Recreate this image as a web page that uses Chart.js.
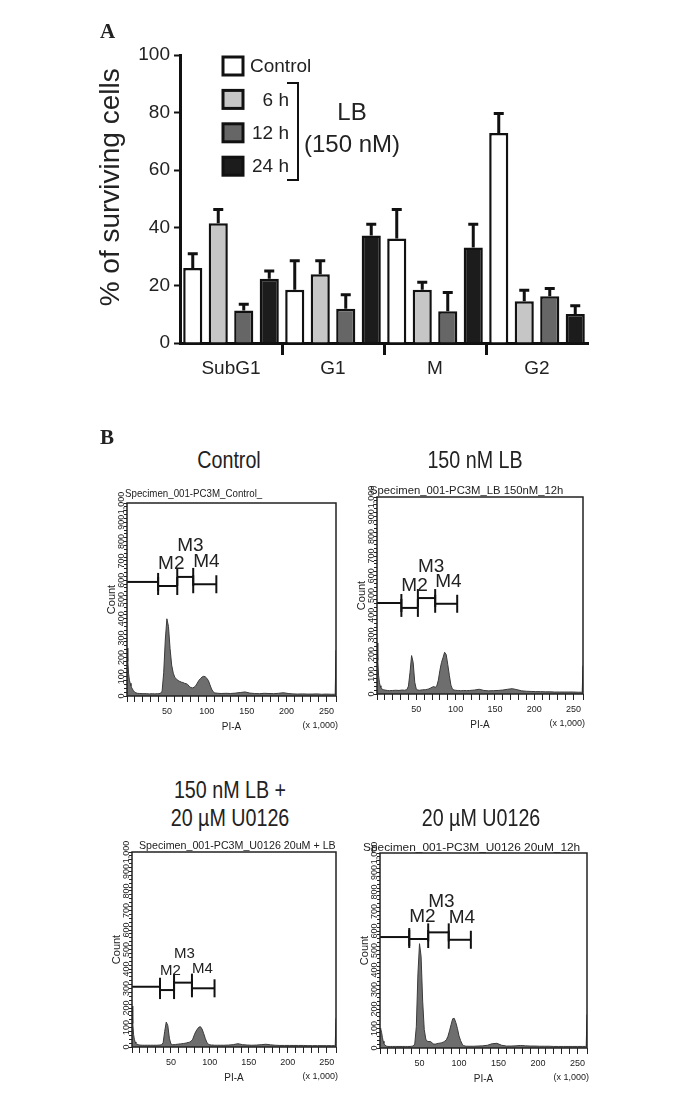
<!DOCTYPE html>
<html>
<head>
<meta charset="utf-8">
<script src="https://cdn.jsdelivr.net/npm/chart.js@4.4.1/dist/chart.umd.min.js"></script>
<style>
  body { margin: 0; background: #fff; }
  #page { position: relative; width: 688px; height: 1094px; overflow: hidden; color: #222; }
  .abs { position: absolute; }
  .panel { font-family: "Liberation Serif", "Times New Roman", serif; font-weight: bold; font-size: 21px; line-height: 21px; }
  .ttl { font-family: "Liberation Sans", Arial, sans-serif; font-size: 24px; line-height: 28px; white-space: nowrap; transform: translateX(-50%) scaleX(0.82); }
  .hdr { font-family: "Liberation Sans", Arial, sans-serif; font-size: 11px; line-height: 12px; white-space: nowrap; transform-origin: left center; }
</style>
</head>
<body>
<div id="page">
  <canvas id="barChart" class="abs" style="left:0;top:0"></canvas>
  <canvas id="hist1" class="abs"></canvas>
  <canvas id="hist2" class="abs"></canvas>
  <canvas id="hist3" class="abs"></canvas>
  <canvas id="hist4" class="abs"></canvas>

  <div class="abs panel" style="left:100px;top:21px">A</div>
  <div class="abs panel" style="left:100px;top:427px">B</div>

  <div class="abs ttl" style="left:229px;top:446px">Control</div>
  <div class="abs ttl" style="left:475px;top:446px">150 nM LB</div>
  <div class="abs ttl" style="left:230px;top:776px">150 nM LB +</div>
  <div class="abs ttl" style="left:230px;top:804px">20 µM U0126</div>
  <div class="abs ttl" style="left:481px;top:804px">20 µM U0126</div>

  <div class="abs hdr" data-w="137" style="left:125px;top:487px">Specimen_001-PC3M_Control_</div>
  <div class="abs hdr" data-w="193" style="left:370px;top:484px">Specimen_001-PC3M_LB 150nM_12h</div>
  <div class="abs hdr" data-w="197" style="left:139px;top:839px">Specimen_001-PC3M_U0126 20uM + LB</div>
  <div class="abs hdr" data-w="217" style="left:363px;top:841px">Specimen_001-PC3M_U0126 20uM_12h</div>
</div>

<script>
// ---- Panel A data ----
const phases = ['SubG1', 'G1', 'M', 'G2'];
const controlPct = [26.0, 18.5, 36.3, 72.9];
const lb6hPct = [41.6, 23.9, 18.5, 14.5];
const lb12hPct = [11.3, 11.9, 11.0, 16.2];
const lb24hPct = [22.3, 37.3, 33.2, 10.1];
// upper error (SD) for each bar
const controlSd = [5.2, 10.2, 10.2, 7.0];
const lb6hSd = [4.9, 4.8, 2.8, 4.0];
const lb12hSd = [2.3, 5.0, 6.7, 2.9];
const lb24hSd = [2.9, 4.1, 8.2, 3.0];
const pctTicks = [0, 20, 40, 60, 80, 100];

// ---- Panel B data (PI-A channel x1,000 vs count) ----
const channels = [0,1,2,3,4,5,6,8,10,13,16,20,24,28,32,35,38,
  40,42,44,46,48,50,52,54,56,58,60,62,64,66,68,70,72,74,76,78,80,82,84,86,88,90,92,94,96,98,100,102,104,106,108,110,
  114,118,124,130,136,142,148,154,160,166,172,178,184,190,196,202,208,214,220,226,232,238,244,250,256,260,261,262];

const controlCounts = [249,180,115,82,66,52,42,28,18,14,13,12,12,11,12,11,12,
  12,14,25,120,290,400,360,245,160,118,96,88,80,76,72,70,66,64,60,50,44,42,45,52,66,80,90,98,102,100,92,80,58,36,22,16,
  14,13,14,13,15,18,21,15,13,12,14,13,12,14,17,13,11,10,11,10,10,11,9,10,9,9,9,237];
const lbCounts = [259,170,95,60,42,32,26,22,20,18,17,18,19,18,20,19,22,
  40,110,195,160,60,24,20,19,20,21,22,22,24,26,30,34,38,34,40,70,120,160,185,212,200,150,95,45,24,20,19,18,18,17,17,18,
  17,18,20,24,18,16,17,18,20,24,27,22,16,14,13,12,12,11,11,10,10,10,10,10,9,9,9,144];
const lbU0126Counts = [210,120,65,40,26,19,15,12,10,9,9,9,9,9,9,10,11,
  22,80,128,110,45,15,12,12,13,14,15,16,17,18,19,21,23,25,30,40,62,80,92,102,104,92,70,45,25,14,11,10,10,9,9,9,
  9,9,10,12,17,12,10,9,10,12,14,11,9,8,8,8,8,8,8,7,7,7,7,7,7,7,7,147];
const u0126Counts = [100,96,80,55,35,24,16,10,8,8,8,8,8,8,8,8,8,
  9,10,20,110,380,535,470,240,95,45,34,33,33,26,20,20,22,24,25,27,30,35,42,60,88,120,150,152,130,100,62,38,20,12,10,9,
  9,9,10,11,14,22,24,14,10,10,11,13,11,10,10,9,9,9,8,8,8,8,8,8,8,8,8,171];

// marker gates M1..M4: edges and level (count) of each bar
const controlGateEdges = [0, 39, 63, 83, 112];
const controlGateLevels = [591, 570, 617, 579];
const lbGateEdges = [0, 31, 52, 74, 102];
const lbGateLevels = [462, 437, 487, 458];
const lbU0126GateEdges = [0, 36, 54, 77, 106];
const lbU0126GateLevels = [309, 292, 330, 301];
const u0126GateEdges = [0, 37, 61, 87, 115];
const u0126GateLevels = [569, 559, 593, 555];

const sans = '"Liberation Sans", Arial, sans-serif';
const ink = '#111';

// ---------- Panel A ----------
const errorBars = {
  id: 'errorBars',
  afterDatasetsDraw(chart) {
    const { ctx, scales: { y } } = chart;
    ctx.save();
    ctx.strokeStyle = ink;
    ctx.lineWidth = 3;
    chart.data.datasets.forEach((ds, di) => {
      chart.getDatasetMeta(di).data.forEach((bar, i) => {
        const top = y.getPixelForValue(ds.data[i] + ds.sd[i]);
        ctx.beginPath();
        ctx.moveTo(bar.x, bar.y);
        ctx.lineTo(bar.x, top);
        ctx.moveTo(bar.x - 5, top + 0.5);
        ctx.lineTo(bar.x + 5, top + 0.5);
        ctx.stroke();
      });
    });
    ctx.restore();
  }
};

const sideLegend = {
  id: 'sideLegend',
  afterDraw(chart) {
    const { ctx, chartArea: a } = chart;
    const x0 = a.left + 43, y0 = a.top + 11, step = 33.4;
    ctx.save();
    chart.data.datasets.forEach((ds, i) => {
      const cy = y0 + i * step;
      ctx.fillStyle = ds.backgroundColor;
      ctx.fillRect(x0, cy - 9, 20, 18);
      ctx.lineWidth = 3;
      ctx.strokeStyle = ink;
      ctx.strokeRect(x0, cy - 9, 20, 18);
      ctx.fillStyle = '#222';
      ctx.font = '19px ' + sans;
      ctx.textBaseline = 'middle';
      if (i === 0) {
        ctx.textAlign = 'left';
        ctx.fillText(ds.label, x0 + 27, cy + 1);
      } else {
        ctx.textAlign = 'right';
        ctx.fillText(ds.label, x0 + 66, cy + 1);
      }
    });
    // bracket grouping the LB time points
    const bx = x0 + 75;
    ctx.beginPath();
    ctx.lineWidth = 2;
    ctx.strokeStyle = ink;
    ctx.moveTo(bx - 11, y0 + 17);
    ctx.lineTo(bx, y0 + 17);
    ctx.lineTo(bx, y0 + 114);
    ctx.lineTo(bx - 11, y0 + 114);
    ctx.stroke();
    ctx.fillStyle = '#222';
    ctx.font = '24px ' + sans;
    ctx.textAlign = 'center';
    ctx.textBaseline = 'middle';
    ctx.fillText('LB', x0 + 129, y0 + 47);
    ctx.fillText('(150 nM)', x0 + 129, y0 + 79);
    ctx.restore();
  }
};

const barCv = document.getElementById('barChart');
barCv.width = 688;
barCv.height = 400;

new Chart(barCv, {
  type: 'bar',
  data: {
    labels: phases,
    datasets: [
      { label: 'Control', data: controlPct, sd: controlSd, backgroundColor: '#ffffff' },
      { label: '6 h', data: lb6hPct, sd: lb6hSd, backgroundColor: '#c6c6c6' },
      { label: '12 h', data: lb12hPct, sd: lb12hSd, backgroundColor: '#666666' },
      { label: '24 h', data: lb24hPct, sd: lb24hSd, backgroundColor: '#1c1c1c' }
    ].map(d => Object.assign(d, { borderColor: ink, borderWidth: 2.5, categoryPercentage: 1, barPercentage: 0.75 }))
  },
  options: {
    responsive: false,
    animation: false,
    events: [],
    layout: { padding: { left: 90, top: 55, right: 100, bottom: 7 } },
    plugins: { legend: { display: false }, tooltip: { enabled: false } },
    scales: {
      x: {
        afterFit: s => { s.height = 50; },
        border: { color: ink, width: 3 },
        grid: {
          offset: true,
          drawOnChartArea: false,
          tickLength: 12,
          tickWidth: 3,
          tickColor: c => (c.index >= 1 && c.index <= 3) ? ink : 'rgba(0,0,0,0)'
        },
        ticks: { font: { family: sans, size: 19 }, color: '#222', padding: 2 }
      },
      y: {
        min: 0,
        max: 100,
        afterFit: s => { s.width = 90; },
        afterBuildTicks: s => { s.ticks = pctTicks.map(v => ({ value: v })); },
        border: { color: ink, width: 3 },
        grid: { drawOnChartArea: false, tickLength: 6, tickWidth: 2, tickColor: ink },
        ticks: { font: { family: sans, size: 19 }, color: '#222', padding: 4 },
        title: {
          display: true,
          // leading spaces nudge the rotated title up a little, as in the figure
          text: '   % of surviving cells',
          font: { family: sans, size: 28 },
          color: '#222',
          padding: { top: 4, bottom: 0 }
        }
      }
    }
  },
  plugins: [errorBars, sideLegend]
});

// ---------- Panel B ----------
const frames = {
  hist1: { l: 127, r: 336, t: 503, b: 696 },
  hist2: { l: 377, r: 583, t: 497, b: 694 },
  hist3: { l: 132, r: 336, t: 852, b: 1047 },
  hist4: { l: 380, r: 587, t: 853, b: 1048 }
};

function measure(text, font) {
  const c = document.createElement('canvas').getContext('2d');
  c.font = font;
  return c.measureText(text).width;
}
const yLabelWidest = measure('1,000', '9px ' + sans);

function gateLabels(edges, levels, size, offset, lift) {
  return {
    id: 'gateLabels',
    afterDatasetsDraw(chart) {
      const { ctx, scales: { x, y }, chartArea: a } = chart;
      ctx.save();
      ctx.fillStyle = '#222';
      ctx.font = size + 'px ' + sans;
      ctx.textAlign = 'left';
      ctx.textBaseline = 'alphabetic';
      for (let g = 1; g < levels.length; g++) {
        const up = g === 2 ? lift : 0;
        ctx.fillText('M' + (g + 1), x.getPixelForValue(edges[g]), y.getPixelForValue(levels[g]) - offset - up);
      }
      ctx.strokeStyle = '#222';
      ctx.lineWidth = 1.5;
      ctx.strokeRect(a.left, a.top, a.right - a.left, a.bottom - a.top);
      ctx.font = '9px ' + sans;
      ctx.textAlign = 'right';
      ctx.textBaseline = 'middle';
      ctx.fillText('(x 1,000)', a.right + 2, a.bottom + 30);
      ctx.restore();
    }
  };
}

function histChart(id, counts, edges, levels, size, offset, lift) {
  const f = frames[id];
  const cv = document.getElementById(id);
  cv.width = (f.r - f.l) + 40 + 14;
  cv.height = (f.b - f.t) + 20 + 45;
  cv.style.left = (f.l - 40) + 'px';
  cv.style.top = (f.t - 20) + 'px';

  const gateSets = levels.map((lv, g) => ({
    data: [{ x: edges[g], y: lv }, { x: edges[g + 1], y: lv }],
    borderColor: ink,
    borderWidth: 2,
    fill: false,
    pointStyle: 'line',
    pointRotation: 90,
    pointRadius: g === 0 ? [0, 9] : 9,
    pointBorderWidth: 2,
    pointBorderColor: ink
  }));

  return new Chart(cv, {
    type: 'line',
    data: {
      datasets: [{
        data: channels.map((c, i) => ({ x: c, y: counts[i] })),
        borderColor: '#3a3a3a',
        borderWidth: 1,
        backgroundColor: '#6e6e6e',
        fill: 'origin',
        pointRadius: 0,
        tension: 0
      }].concat(gateSets)
    },
    options: {
      responsive: false,
      animation: false,
      events: [],
      layout: { padding: { left: 0, top: 20, right: 14, bottom: 0 } },
      plugins: { legend: { display: false }, tooltip: { enabled: false } },
      scales: {
        x: {
          type: 'linear',
          min: 0,
          max: 262,
          afterFit: s => { s.height = 45; },
          border: { display: false },
          grid: { drawOnChartArea: false, tickLength: 6, tickWidth: 1, tickColor: '#222' },
          ticks: {
            stepSize: 10,
            autoSkip: false,
            maxRotation: 0,
            padding: 4,
            font: { family: sans, size: 9 },
            color: '#222',
            callback: v => (v > 0 && v % 50 === 0) ? String(v) : ''
          },
          title: {
            display: true,
            text: 'PI-A',
            font: { family: sans, size: 10 },
            color: '#222',
            padding: { top: 0, bottom: 8 }
          }
        },
        y: {
          min: 0,
          max: 1000,
          afterFit: s => { s.width = 40; },
          border: { display: false },
          grid: { drawOnChartArea: false, tickLength: 3, tickWidth: 1, tickColor: '#222' },
          ticks: {
            stepSize: 20,
            autoSkip: false,
            minRotation: 90,
            maxRotation: 90,
            crossAlign: 'center',
            padding: 2.5 - yLabelWidest / 2,
            font: { family: sans, size: 9 },
            color: '#222',
            callback: v => v % 100 === 0 ? (v === 1000 ? '1,000' : String(v)) : ''
          },
          title: {
            display: true,
            text: 'Count',
            font: { family: sans, size: 11 },
            color: '#222',
            padding: { top: 18, bottom: 0 }
          }
        }
      }
    },
    plugins: [gateLabels(edges, levels, size, offset, lift)]
  });
}

histChart('hist1', controlCounts, controlGateEdges, controlGateLevels, 19, 17, 9);
histChart('hist2', lbCounts, lbGateEdges, lbGateLevels, 19, 17, 9);
histChart('hist3', lbU0126Counts, lbU0126GateEdges, lbU0126GateLevels, 15, 15, 10);
histChart('hist4', u0126Counts, u0126GateEdges, u0126GateLevels, 19, 17, 8);

// squeeze the instrument headers to the width they take in the figure
document.querySelectorAll('.hdr').forEach(el => {
  el.style.transform = 'scaleX(' + (Number(el.dataset.w) / el.offsetWidth) + ')';
});
</script>
</body>
</html>
